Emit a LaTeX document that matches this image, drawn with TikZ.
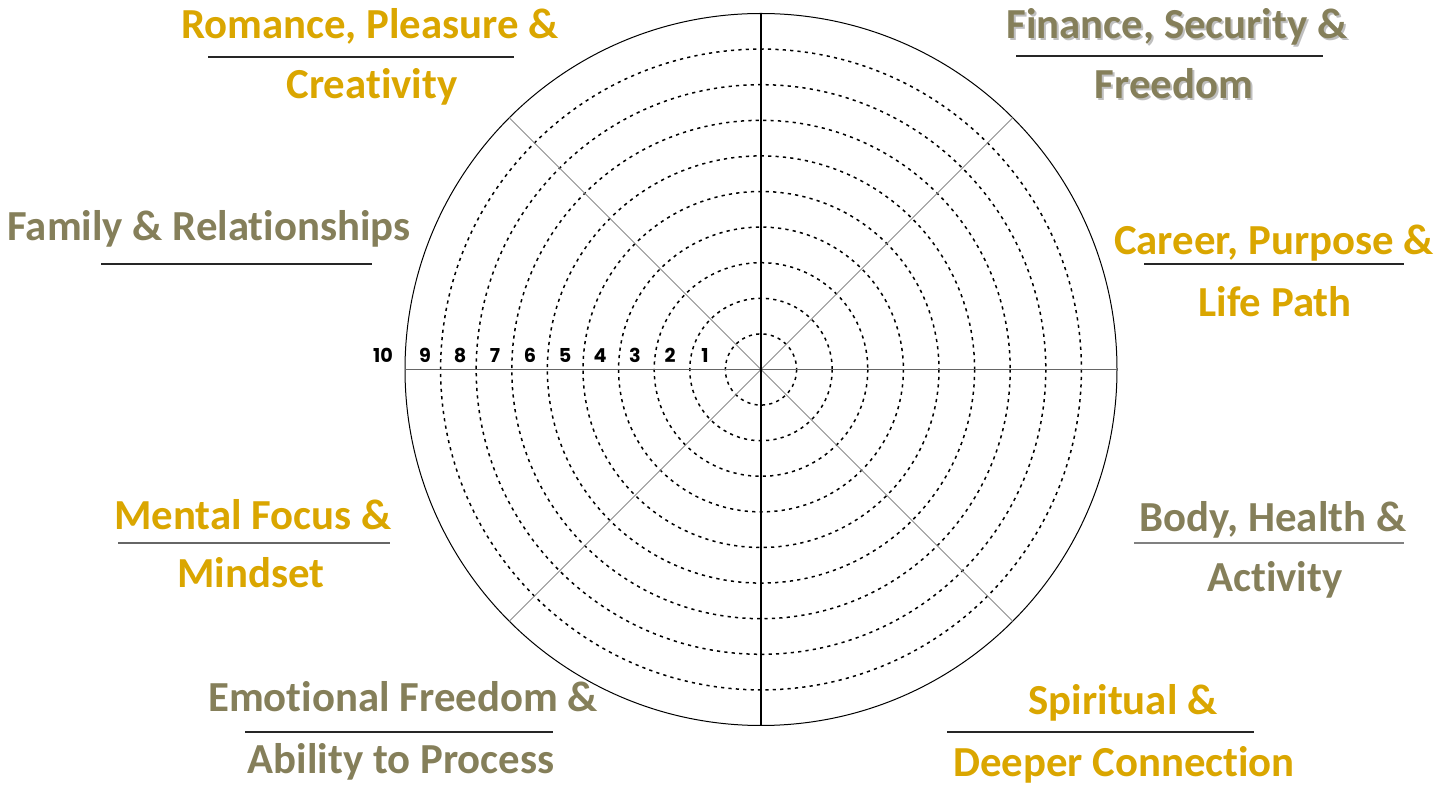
\documentclass[tikz,border=0pt]{standalone}
\usepackage{fontspec}
\setmainfont{Carlito}[Ligatures=NoCommon]
\newfontfamily\numfont{Poppins}
\usepackage{xcolor}
\usepackage{tikz}
\definecolor{gold}{RGB}{218,166,0}
\definecolor{olive}{RGB}{133,127,90}
\tikzset{
  area/.style={font=\fontsize{21.4}{23}\selectfont\bfseries, anchor=base, inner sep=0pt},
  shade/.style={area, text=black!25},
  num/.style={font=\numfont\fontsize{9.6}{10}\selectfont\bfseries, anchor=base, inner sep=0pt},
  ring/.style={line width=0.75pt, dash pattern=on 1.6pt off 2.1pt},
  rule/.style={line width=0.6pt, black!85}
}
\begin{document}
\begin{tikzpicture}[x=0.5pt,y=-0.5pt]
            \useasboundingbox (0,0) rectangle (1453,785);
            \coordinate (c) at (761,369.5);

            \foreach \r in {1,...,9}
                \draw[ring] (c) circle (35.6*\r);
            \draw[line width=0.5pt] (c) circle (356);

            \draw[line width=0.5pt, black!45] (c) -- +(45:356);
            \draw[line width=0.5pt, black!45] (c) -- +(135:356);
            \draw[line width=0.5pt, black!45] (c) -- +(225:356);
            \draw[line width=0.5pt, black!45] (c) -- +(315:356);
            \draw[line width=0.6pt, black!60] (c) -- +(-356,0);
            \draw[line width=0.6pt, black!60] (c) -- +(356,0);
            \draw[line width=0.6pt] (c) -- +(0,-356);
            \draw[line width=0.6pt] (c) -- +(0,356);

            \foreach \n in {1,...,9}
                \node[num] (n\n) at ({740-35*\n},363) {\n};
            \node[num] (n10) at (383,363) {10};

            \node[area, text=gold] (rom1) at (370,39) {Romance, Pleasure \&};
            \node[area, text=gold] (rom2) at (372,99) {Creativity};
            \draw[rule] (208,57) -- (514,57);

            \node[shade] (fin1s) at (1179,41) {Finance, Security \&};
            \node[shade] (fin2s) at (1176,101) {Freedom};
            \node[area, text=olive] (fin1) at (1177,39) {Finance, Security \&};
            \node[area, text=olive] (fin2) at (1174,99) {Freedom};
            \draw[rule] (1016,56) -- (1323,56);

            \node[area, text=olive] (fam) at (209,241) {Family \& Relationships};
            \draw[rule] (101,264) -- (372,264);

            \node[area, text=gold] (car1) at (1274,255) {Career, Purpose \&};
            \node[area, text=gold] (car2) at (1275,317) {Life Path};
            \draw[rule] (1144,264) -- (1404,264);

            \node[area, text=gold] (men1) at (253,530) {Mental Focus \&};
            \node[area, text=gold] (men2) at (251,588) {Mindset};
            \draw[rule, black!60] (118,543) -- (390,543);

            \node[area, text=olive] (bod1) at (1273,532) {Body, Health \&};
            \node[area, text=olive] (bod2) at (1275,592) {Activity};
            \draw[rule, black!50] (1134,543) -- (1404,543);

            \node[area, text=olive] (emo1) at (403,712) {Emotional Freedom \&};
            \node[area, text=olive] (emo2) at (401,774) {Ability to Process};
            \draw[rule] (245,732) -- (553,732);

            \node[area, text=gold] (spi1) at (1123,715) {Spiritual \&};
            \node[area, text=gold] (spi2) at (1124,777) {Deeper Connection};
            \draw[rule] (947,732) -- (1254,732);
        \end{tikzpicture}
\end{document}
